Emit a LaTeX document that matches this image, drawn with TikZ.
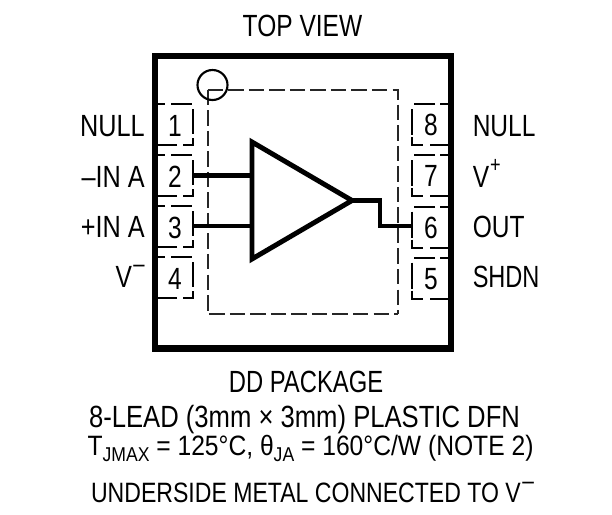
\documentclass[tikz,border=0pt]{standalone}
\usepackage{fontspec}
\setmainfont[FakeStretch=0.80]{Liberation Sans}
\newcommand{\upm}{\hspace{0.05em}\raisebox{0.46em}{\fontsize{19}{20}\selectfont –}}
\newcommand{\upp}{\hspace{0.03em}\raisebox{0.46em}{\fontsize{17}{20}\selectfont +}}
\newcommand{\lowt}[1]{\raisebox{-0.22em}{\fontsize{15}{18}\selectfont #1}}
\begin{document}
\begin{tikzpicture}[x=0.75pt,y=-0.75pt,
  lab/.style={inner sep=0pt,font=\fontsize{23}{27}\selectfont},
  smalllab/.style={inner sep=0pt,font=\fontsize{21}{25}\selectfont},
  dashline/.style={line width=1.5pt,dash pattern=on 11.6pt off 3.8pt,color=black!85},
  pinline/.style={line width=1.5pt},
  heavy/.style={line width=3.7pt,line join=miter,miter limit=10}]
\useasboundingbox (0,0) rectangle (612,515);
\fill[white] (0,0) rectangle (612,515);
% inner pad
\coordinate (padtl) at (207.7,89.7);
\coordinate (padtr) at (398,89.7);
\coordinate (padbl) at (207.7,314);
\coordinate (padbr) at (398,314);
\draw[dashline] (padtl) -- (padtr) -- (padbr);
\draw[dashline] (padtl) -- (padbl) -- (padbr);
\node[draw,circle,line width=1.6pt,minimum size=22.5pt,inner sep=0pt] (mark) at (212.5,85) {};
% pins
\foreach \n/\t in {1/104,2/155,3/206,4/257}{
  \draw[pinline] (158,\t) -- (165,\t) (171,\t) -- (192,\t)
     (193.3,\t+5) -- (193.3,\t+30)
     (193.3,\t+34) -- (193.3,\t+41) -- (183,\t+41) (177,\t+41) -- (158,\t+41);
  \node[lab,anchor=base] (p\n) at (175,\t+32) {\n};
}
\foreach \n/\t in {8/104,7/155,6/206.5,5/257.5}{
  \draw[pinline] (448,\t) -- (440,\t) (435,\t) -- (414,\t)
     (412,\t+5) -- (412,\t+31)
     (412,\t+33) -- (412,\t+41) -- (423,\t+41) (430,\t+41) -- (448,\t+41);
  \node[lab,anchor=base] (p\n) at (431,\t+31.5) {\n};
}
% outer box
\draw[line width=4.7pt] (155,56) rectangle (451,348.5);
% op amp
\coordinate (w2) at (193,175.5);
\coordinate (w3) at (193,226);
\coordinate (wo) at (412,226);
\coordinate (tip) at (352,200.5);
\draw[heavy] (252,142) -- (252,259) -- (tip) -- cycle;
\draw[heavy] (w2) -- (252,175.5);
\draw[heavy] (w3) -- (252,226);
\draw[heavy] (tip) -- (380,200.5) -- (380,226) -- (wo);
% labels
\node[lab,anchor=base] (top) at (302.5,36) {TOP VIEW};
\node[lab,anchor=base east] (l1) at (145,136) {\scalebox{1.03}[1]{NULL}};
\node[lab,anchor=base east] (l2) at (145,187) {\scalebox{1.03}[1]{–IN A}};
\node[lab,anchor=base east] (l3) at (145,237) {\scalebox{1.03}[1]{+IN A}};
\node[lab,anchor=base east] (l4) at (145,287) {V\upm};
\node[lab,anchor=base west] (r8) at (472.5,136) {\scalebox{1.0}[1]{NULL}};
\node[lab,anchor=base west] (r7) at (472.5,187) {V\upp};
\node[lab,anchor=base west] (r6) at (472.5,237) {OUT};
\node[lab,anchor=base west] (r5) at (472.5,287) {\scalebox{0.96}[1]{SHDN}};
\node[lab,anchor=base] (c1) at (306,392) {\scalebox{0.97}[1]{DD PACKAGE}};
\node[lab,anchor=base] (c2) at (304.5,427) {\scalebox{1.045}[1]{8-LEAD (3mm × 3mm) PLASTIC DFN}};
\node[smalllab,anchor=base] (c3) at (310.5,455) {\scalebox{1.10}[1]{T\lowt{JMAX} = 125°C, θ\lowt{JA} = 160°C/W (NOTE 2)}};
\node[smalllab,anchor=base] (c4) at (312.5,502) {\scalebox{1.03}[1]{UNDERSIDE METAL CONNECTED TO V\upm}};
\end{tikzpicture}
\end{document}
